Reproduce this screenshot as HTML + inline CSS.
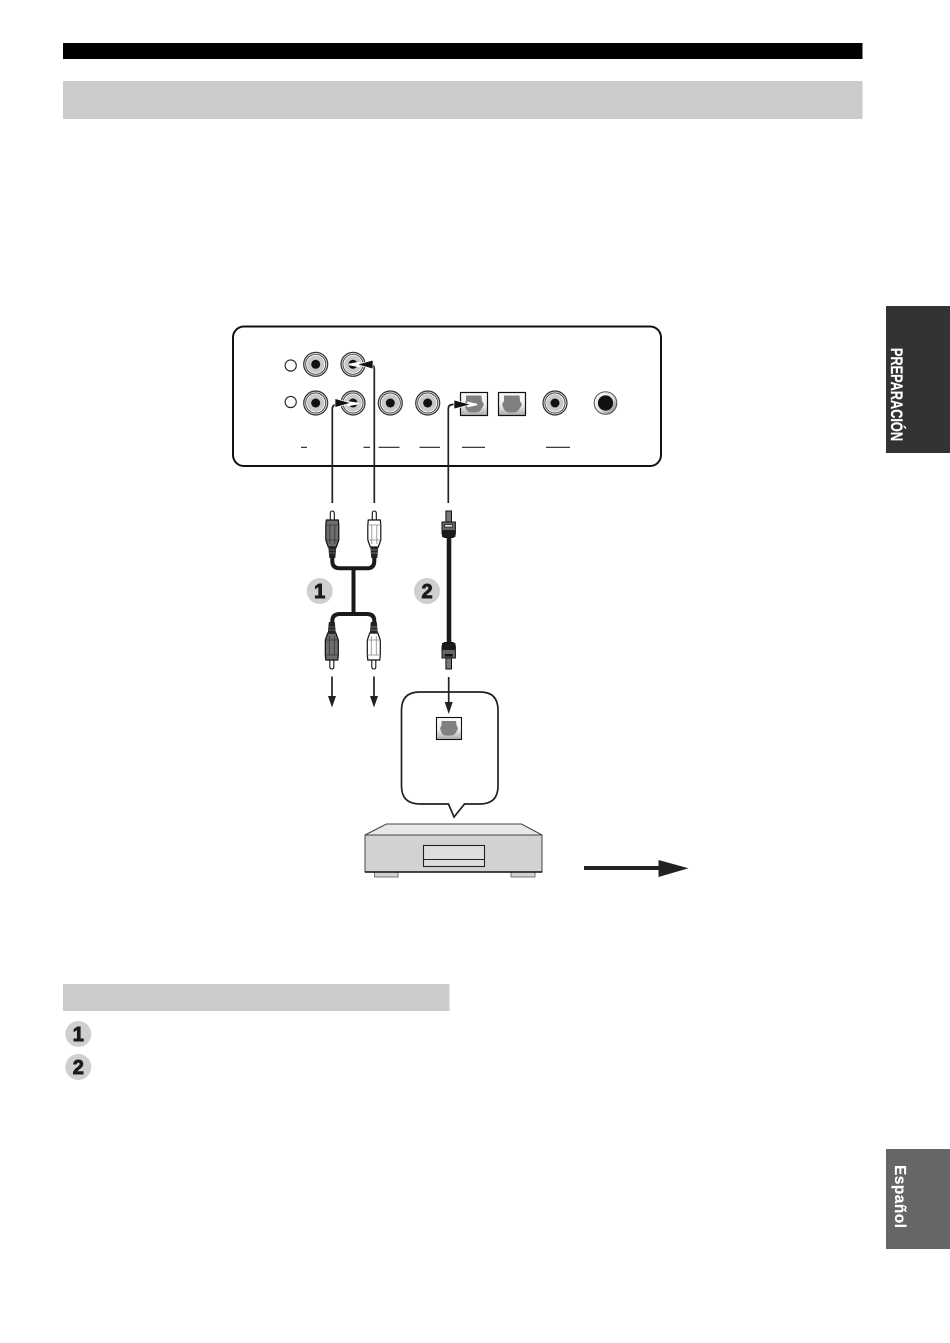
<!DOCTYPE html>
<html>
<head>
<meta charset="utf-8">
<style>
html,body{margin:0;padding:0;background:#fff;}
body{width:950px;height:1343px;overflow:hidden;}
svg{display:block;}
text{font-family:"Liberation Sans",sans-serif;font-weight:bold;}
</style>
</head>
<body>
<svg width="950" height="1343" viewBox="0 0 950 1343" xmlns="http://www.w3.org/2000/svg">
<defs>
  <linearGradient id="optg" x1="0" y1="0" x2="0" y2="1">
    <stop offset="0" stop-color="#fafafa"/><stop offset="0.55" stop-color="#eee"/><stop offset="1" stop-color="#aaa"/>
  </linearGradient>
  <linearGradient id="jk" x1="0" y1="0" x2="1" y2="1">
    <stop offset="0" stop-color="#fff"/><stop offset="0.55" stop-color="#e0e0e0"/><stop offset="1" stop-color="#777"/>
  </linearGradient>
  <g id="jack">
    <circle r="12" fill="#d8d8d8" stroke="#333" stroke-width="1.2"/>
    <circle r="10" fill="#fff" stroke="#444" stroke-width="0.9"/>
    <circle r="8.7" fill="#c8c8c8"/>
    <circle r="4.5" fill="#111"/>
  </g>
  <g id="opt">
    <rect x="-13.5" y="-11.5" width="27" height="23" fill="url(#optg)" stroke="#111" stroke-width="1.2"/>
    <path d="M-8,-8.5 H7.5 L8,-3 L10,0.5 L8,4 Q6,8.5 1,8.5 H-2 Q-7,8.5 -8.5,4 L-10,0.5 L-8,-3 Z" fill="#808080"/>
  </g>
  <g id="plugW">
    <path d="M0,-9 q-2,0 -2,2.5 V0 h4 V-6.5 q0,-2.5 -2,-2.5 Z" fill="#fff" stroke="#111" stroke-width="1.1"/>
    <path d="M-6,0 H6 L6.5,5 V20 L4,27 H-4 L-6.5,20 V5 Z" fill="#fff" stroke="#111" stroke-width="1.2"/>
    <path d="M-6.5,5 H6.5 M-2.5,5 V24 M2.5,5 V24 M-6.5,20 H6.5" fill="none" stroke="#888" stroke-width="0.8"/>
    <path d="M-4,27 H4 L3,38 H-3 Z" fill="#222"/>
    <path d="M-3.4,30 H3.4 M-3.4,33 H3.4" stroke="#999" stroke-width="0.7"/>
  </g>
  <g id="plugD">
    <path d="M0,-9 q-2,0 -2,2.5 V0 h4 V-6.5 q0,-2.5 -2,-2.5 Z" fill="#fff" stroke="#111" stroke-width="1.1"/>
    <path d="M-6,0 H6 L6.5,5 V20 L4,27 H-4 L-6.5,20 V5 Z" fill="#6e6e6e" stroke="#111" stroke-width="1.2"/>
    <path d="M-6.5,5 H6.5 M-2.5,5 V24 M2.5,5 V24 M-6.5,20 H6.5" fill="none" stroke="#333" stroke-width="0.8"/>
    <path d="M-4,27 H4 L3,38 H-3 Z" fill="#222"/>
    <path d="M-3.4,30 H3.4 M-3.4,33 H3.4" stroke="#777" stroke-width="0.7"/>
  </g>
</defs>

<rect x="63" y="43" width="799.5" height="16" fill="#000"/>
<rect x="63" y="81" width="799.5" height="38" fill="#cbcbcb"/>
<rect x="63" y="984" width="386.5" height="27" fill="#cbcbcb"/>

<rect x="886" y="306" width="64" height="147" fill="#333"/>
<text transform="translate(891,348) rotate(90)" font-size="16.6" fill="#fff" stroke="#fff" stroke-width="0.25" textLength="93" lengthAdjust="spacingAndGlyphs">PREPARACIÓN</text>
<rect x="886" y="1149" width="64" height="100" fill="#666"/>
<text transform="translate(895,1165) rotate(90)" font-size="15.5" fill="#fff" stroke="#fff" stroke-width="0.2" textLength="63" lengthAdjust="spacing">Español</text>

<!-- panel -->
<rect x="233" y="326.5" width="428" height="139.5" rx="11" ry="11" fill="#fff" stroke="#111" stroke-width="2"/>
<circle cx="290.7" cy="365.5" r="5.6" fill="#fff" stroke="#222" stroke-width="1.1"/>
<circle cx="290.7" cy="402" r="5.6" fill="#fff" stroke="#222" stroke-width="1.1"/>
<use href="#jack" x="315.7" y="364.3"/>
<use href="#jack" x="353" y="364.3"/>
<use href="#jack" x="315.7" y="403"/>
<use href="#jack" x="353" y="403"/>
<use href="#jack" x="390.3" y="403"/>
<use href="#jack" x="427.7" y="403"/>
<use href="#opt" x="474" y="404"/>
<use href="#opt" x="512" y="404"/>
<use href="#jack" x="555" y="403"/>
<circle cx="605.5" cy="403" r="11.3" fill="url(#jk)" stroke="#555" stroke-width="1"/>
<circle cx="605.5" cy="403" r="7.6" fill="#111"/>
<path d="M301,447.3H307 M363.5,447.3H370 M378.5,447.3H399.5 M419.5,447.3H440 M462,447.3H485 M546,447.3H570" stroke="#222" stroke-width="1.2" fill="none"/>

<!-- connectors into panel -->
<path d="M332.3,503 V409 Q332.3,404.5 337,404.5 H342" fill="none" stroke="#222" stroke-width="1.7"/>
<path d="M348,402 L359,403.5 L348,405.5 Z" fill="#fff" stroke="#fff" stroke-width="1.5"/>
<path d="M335,398.5 L351,403 L335,407.5 Z" fill="#111" stroke="#fff" stroke-width="0.7"/>
<path d="M374.3,503 V369 Q374.3,364.5 370,364.5 H365" fill="none" stroke="#222" stroke-width="1.7"/>
<path d="M359,362.5 L349,364.5 L359,366.5 Z" fill="#fff" stroke="#fff" stroke-width="1.5"/>
<path d="M373,360 L357,364.5 L373,369 Z" fill="#111" stroke="#fff" stroke-width="0.7"/>
<path d="M448.3,503 V409 Q448.3,404.5 453,404.5 H456" fill="none" stroke="#222" stroke-width="1.7"/>
<path d="M468,402.5 L477,404.5 L468,406.5 Z" fill="#fff" stroke="#fff" stroke-width="1.5"/>
<path d="M454,400 L471,404.5 L454,409 Z" fill="#111" stroke="#fff" stroke-width="0.7"/>

<!-- RCA cable -->
<path d="M332.3,556 V561 Q332.3,568.3 340,568.3 H367 Q374.3,568.3 374.3,561 V556" fill="none" stroke="#1a1a1a" stroke-width="4"/>
<path d="M353.5,568 V614" fill="none" stroke="#1a1a1a" stroke-width="4"/>
<path d="M332.3,626 V621 Q332.3,614 340,614 H367 Q374.3,614 374.3,621 V626" fill="none" stroke="#1a1a1a" stroke-width="4"/>
<use href="#plugD" x="332.3" y="520"/>
<use href="#plugW" x="374.3" y="520"/>
<use href="#plugD" transform="translate(331.8,660) scale(1,-1)"/>
<use href="#plugW" transform="translate(373.8,660) scale(1,-1)"/>

<!-- optical cable -->
<path d="M449,535 V645" stroke="#1a1a1a" stroke-width="4.6" fill="none"/>
<g transform="translate(448.7,0)">
  <path d="M-2.8,511 H2.8 V522 H-2.8 Z" fill="#777" stroke="#111" stroke-width="1"/>
  <path d="M-6.7,522 H6.7 V534 L4.5,537.5 H-4.5 L-6.7,534 Z" fill="#666" stroke="#111" stroke-width="1"/>
  <rect x="-4" y="524.5" width="8" height="2.6" fill="#ddd" stroke="#111" stroke-width="0.7"/>
  <path d="M-6.7,530 H6.7 V537 H-6.7 Z" fill="#1a1a1a"/>
  <path d="M-2.8,669 H2.8 V658 H-2.8 Z" fill="#777" stroke="#111" stroke-width="1"/>
  <path d="M-6.7,658 H6.7 V646 L4.5,642.5 H-4.5 L-6.7,646 Z" fill="#666" stroke="#111" stroke-width="1"/>
  <rect x="-4" y="654" width="8" height="2.6" fill="#111"/>
  <path d="M-6.7,643 H6.7 V650 H-6.7 Z" fill="#1a1a1a"/>
</g>

<!-- number badges -->
<circle cx="319.7" cy="591" r="13" fill="#cfcfcf"/>
<text x="319.7" y="598" font-size="20" text-anchor="middle" fill="#1a1a1a" stroke="#1a1a1a" stroke-width="0.9">1</text>
<circle cx="427" cy="591" r="13" fill="#cfcfcf"/>
<text x="427" y="598" font-size="20" text-anchor="middle" fill="#1a1a1a" stroke="#1a1a1a" stroke-width="0.9">2</text>
<circle cx="78.3" cy="1034" r="13" fill="#cfcfcf"/>
<text x="78.3" y="1041" font-size="20" text-anchor="middle" fill="#1a1a1a" stroke="#1a1a1a" stroke-width="0.9">1</text>
<circle cx="78.3" cy="1067" r="13" fill="#cfcfcf"/>
<text x="78.3" y="1074" font-size="20" text-anchor="middle" fill="#1a1a1a" stroke="#1a1a1a" stroke-width="0.9">2</text>

<!-- down arrows -->
<path d="M332,676.5 V698" stroke="#222" stroke-width="1.7"/>
<path d="M328,696 H336 L332,707.5 Z" fill="#222"/>
<path d="M374,676.5 V698" stroke="#222" stroke-width="1.7"/>
<path d="M370,696 H378 L374,707.5 Z" fill="#222"/>

<!-- speech bubble -->
<path d="M420,692 H480 Q498,692 498,710 V786 Q498,804 480,804 H464.5 L454,817 L448.5,804 H420 Q401.5,804 401.5,786 V710 Q401.5,692 420,692 Z" fill="#fff" stroke="#222" stroke-width="1.7"/>
<path d="M448.7,677 V704" stroke="#222" stroke-width="1.7"/>
<path d="M444.7,702 H452.7 L448.7,714 Z" fill="#222"/>
<rect x="436.5" y="717.5" width="25" height="22" fill="url(#optg)" stroke="#111" stroke-width="1.1"/>
<path d="M441.5,721 H456 L456.5,725 L458,728.5 L456,732.5 Q454,735.5 451,735.5 H446 Q443,735.5 441.5,732.5 L440,728.5 L441.5,725 Z" fill="#808080"/>

<!-- device -->
<path d="M374.5,872 H398 V877 H374.5 Z M511,872 H535 V877 H511 Z" fill="#d2d2d2" stroke="#777" stroke-width="1"/>
<path d="M365,835 L386.5,824 H521.5 L542,835 Z" fill="#e8e8e8" stroke="#444" stroke-width="1.1"/>
<rect x="365" y="835" width="177" height="37" fill="#d2d2d2" stroke="#444" stroke-width="1"/>
<path d="M365,872 H542" stroke="#111" stroke-width="1.5"/>
<rect x="423.5" y="845.5" width="61" height="21" fill="#dedede" stroke="#222" stroke-width="1.1"/>
<path d="M423.5,859.5 H484.5" stroke="#222" stroke-width="1.1"/>

<!-- big arrow -->
<path d="M584,868 H662" stroke="#222" stroke-width="4"/>
<path d="M658.5,860 L688.5,868.3 L658.5,877 Z" fill="#222"/>
</svg>
</body>
</html>
